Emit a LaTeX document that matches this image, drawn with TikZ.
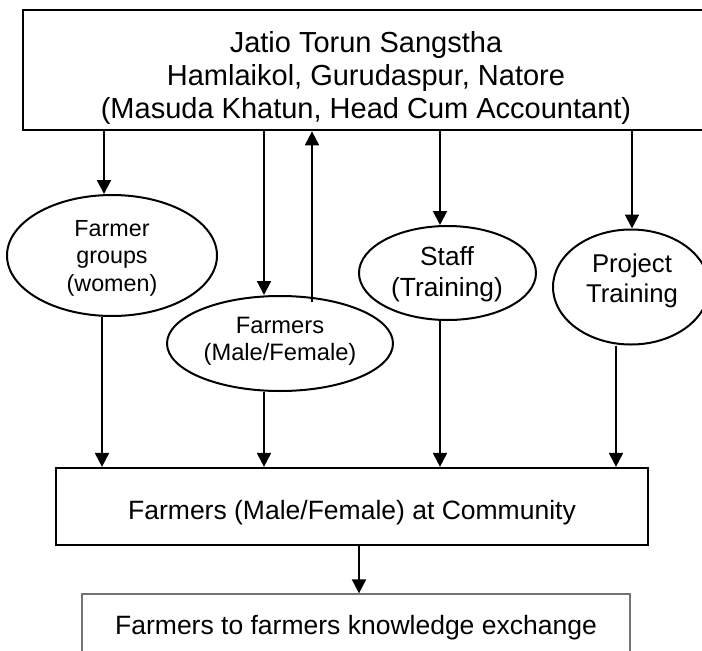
\documentclass[tikz,border=0pt]{standalone}
\usepackage{fontspec}
\setmainfont{Liberation Sans}
\usetikzlibrary{arrows.meta,shapes.geometric,calc}
\begin{document}
\begin{tikzpicture}[x=1pt,y=-1pt,
  topbox/.style={draw=black,line width=2.7pt,inner sep=0pt,minimum width=686pt,minimum height=120pt},
  midbox/.style={draw=black,line width=2.2pt,inner sep=0pt,minimum width=592pt,minimum height=77pt},
  botbox/.style={draw=black!55,line width=1.3pt,inner sep=0pt,minimum width=548pt,minimum height=67.2pt,font=\fontsize{26.5pt}{31pt}\selectfont},
  ell/.style={ellipse,draw=black,line width=2pt,inner sep=0pt},
  lbl/.style={align=center,inner sep=0pt},
  arr/.style={-{Triangle[length=14pt,width=14pt]},line width=2pt,draw=black}]
\clip (0,0) rectangle (702,651);
\fill[white] (0,0) rectangle (702,651);
% boxes
\node[topbox] (top) at (366,70) {};
\node[lbl,font=\fontsize{29pt}{33pt}\selectfont] (toptext) at (366,77.5)
  {Jatio Torun Sangstha\\Hamlaikol, Gurudaspur, Natore\\(Masuda Khatun, Head Cum Accountant)};
\node[midbox] (mid) at (352,506.5) {};
\node[lbl,font=\fontsize{26.5pt}{31pt}\selectfont] (midtext) at (352,512.4) {Farmers (Male/Female) at Community};
\node[botbox] (bot) at (356,627.6) {Farmers to farmers knowledge exchange};
% ellipses
\node[ell,minimum width=210pt,minimum height=121pt] (fg) at (112,255.5) {};
\node[lbl,font=\fontsize{23.3pt}{27.5pt}\selectfont] (fgtext) at (112,258.3) {Farmer\\groups\\(women)};
\node[ell,minimum width=226pt,minimum height=95pt] (fm) at (280,343.5) {};
\node[lbl,font=\fontsize{23.7pt}{27pt}\selectfont] (fmtext) at (280,340.8) {Farmers\\(Male/Female)};
\node[ell,minimum width=177pt,minimum height=94pt] (st) at (447.5,273) {};
\node[lbl,font=\fontsize{26.3pt}{30.7pt}\selectfont] (sttext) at (447,274.5) {Staff\\(Training)};
\node[ell,minimum width=156pt,minimum height=115pt] (pt) at (631,287) {};
\node[lbl,font=\fontsize{25.7pt}{30pt}\selectfont] (pttext) at (632,281.3) {Project\\Training};
% x positions of connectors
\coordinate (xa) at (104,0);
\coordinate (xb) at (264,0);
\coordinate (xc) at (312,0);
\coordinate (xd) at (440,0);
\coordinate (xe) at (632,0);
\coordinate (xf) at (102,0);
\coordinate (xg) at (616,0);
\coordinate (xh) at (359,0);
\coordinate (upstart) at ($(xc |- fm.north)+(0,7)$);
% connectors
\draw[arr] (xa |- top.south) -- (xa |- fg.north);
\draw[arr] (xb |- top.south) -- (xb |- fm.north);
\draw[arr] (upstart) -- (upstart |- top.south);
\draw[arr] (xd |- top.south) -- (xd |- st.north);
\draw[arr] (xe |- top.south) -- (xe |- pt.north);
\draw[arr] (xf |- fg.south) -- (xf |- mid.north);
\draw[arr] (xb |- fm.south) -- (xb |- mid.north);
\draw[arr] (xd |- st.south) -- (xd |- mid.north);
\draw[arr] (xg |- pt.south) -- (xg |- mid.north);
\draw[arr] (xh |- mid.south) -- (xh |- bot.north);
\end{tikzpicture}
\end{document}
